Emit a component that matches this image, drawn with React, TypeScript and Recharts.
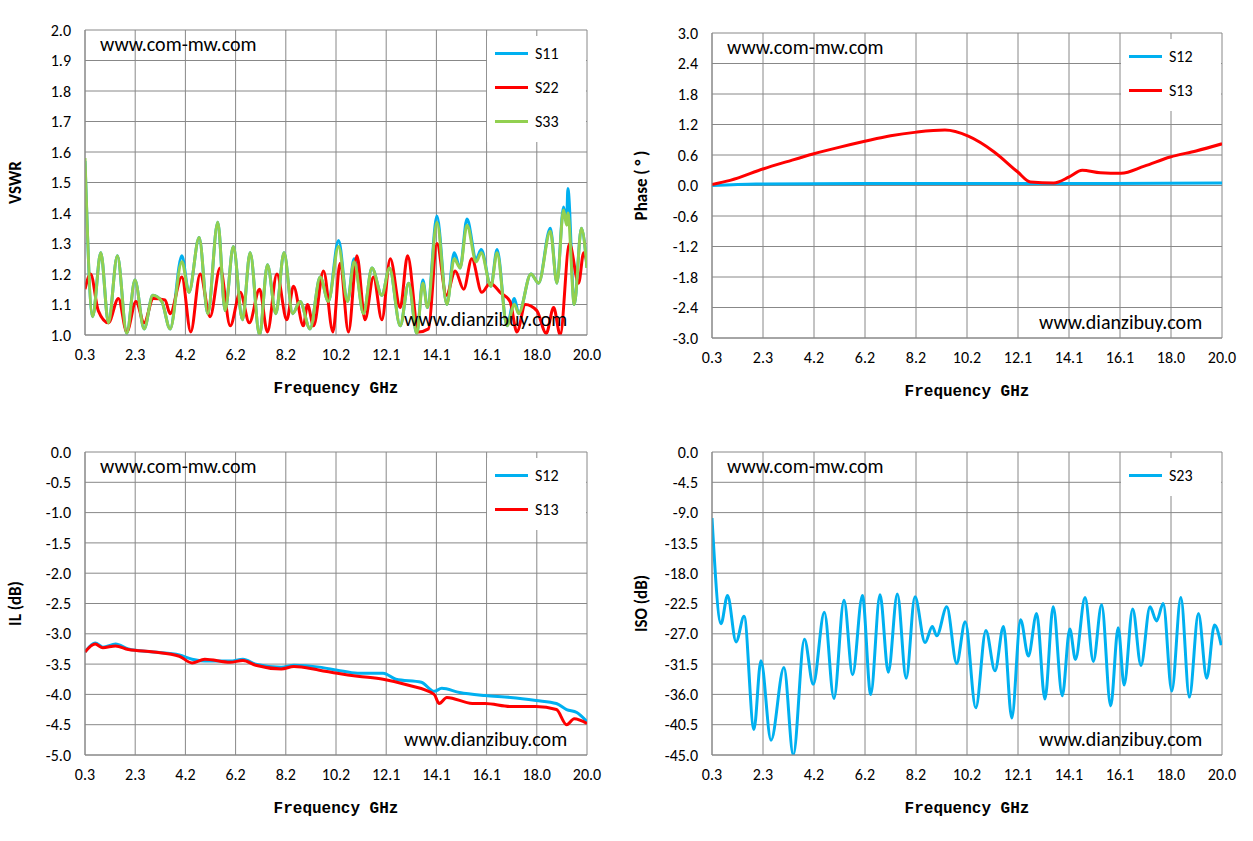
import React from 'react';
import { LineChart, Line, XAxis, YAxis, CartesianGrid } from 'recharts';

const freqTicks = [0.3, 2.27, 4.24, 6.21, 8.18, 10.15, 12.12, 14.09, 16.06, 18.03, 20.0];
const freqLabels = ['0.3', '2.3', '4.2', '6.2', '8.2', '10.2', '12.1', '14.1', '16.1', '18.0', '20.0'];

// VSWR [GHz, value]
const vswrS33: [number, number][] = [
  [0.3, 1.58], [0.6, 1.06], [0.92, 1.27], [1.22, 1.04], [1.57, 1.26], [1.94, 1.005], [2.26, 1.18], [2.62, 1.02],
  [2.96, 1.13], [3.31, 1.11], [3.64, 1.02], [4.1, 1.24], [4.38, 1.14], [4.78, 1.32], [5.12, 1.07], [5.51, 1.37],
  [5.8, 1.08], [6.12, 1.29], [6.48, 1.05], [6.78, 1.27], [7.15, 1.0], [7.46, 1.23], [7.79, 1.07], [8.11, 1.27],
  [8.45, 1.07], [8.74, 1.11], [9.13, 1.02], [9.53, 1.19], [9.85, 1.11], [10.25, 1.29], [10.6, 1.11], [10.86, 1.24],
  [11.23, 1.07], [11.56, 1.22], [11.95, 1.13], [12.25, 1.22], [12.67, 1.03], [13.0, 1.17], [13.32, 1.005], [13.56, 1.17],
  [13.74, 1.09], [14.11, 1.37], [14.5, 1.1], [14.79, 1.25], [15.02, 1.22], [15.29, 1.36], [15.65, 1.24], [15.85, 1.27],
  [16.23, 1.16], [16.47, 1.27], [16.86, 1.03], [17.15, 1.1], [17.32, 1.07], [17.8, 1.2], [18.1, 1.17], [18.56, 1.34],
  [18.82, 1.17], [19.08, 1.41], [19.2, 1.36], [19.25, 1.4], [19.5, 1.1], [19.78, 1.35], [20.0, 1.22],
];
const vswrS11: [number, number][] = [
  [0.3, 1.57], [0.6, 1.06], [0.92, 1.27], [1.22, 1.04], [1.57, 1.26], [1.94, 1.005], [2.26, 1.18], [2.62, 1.02],
  [2.96, 1.13], [3.31, 1.11], [3.64, 1.02], [4.1, 1.26], [4.38, 1.14], [4.78, 1.32], [5.12, 1.07], [5.51, 1.37],
  [5.8, 1.08], [6.12, 1.29], [6.48, 1.05], [6.78, 1.27], [7.15, 1.0], [7.46, 1.23], [7.79, 1.07], [8.11, 1.27],
  [8.45, 1.07], [8.74, 1.11], [9.13, 1.02], [9.53, 1.19], [9.85, 1.11], [10.25, 1.31], [10.6, 1.11], [10.86, 1.25],
  [11.23, 1.07], [11.56, 1.22], [11.95, 1.13], [12.25, 1.22], [12.67, 1.03], [13.0, 1.17], [13.32, 1.005], [13.56, 1.18],
  [13.74, 1.09], [14.11, 1.39], [14.5, 1.1], [14.79, 1.27], [15.02, 1.22], [15.29, 1.38], [15.65, 1.25], [15.85, 1.28],
  [16.23, 1.16], [16.47, 1.28], [16.86, 1.03], [17.15, 1.12], [17.32, 1.07], [17.8, 1.2], [18.1, 1.17], [18.56, 1.35],
  [18.82, 1.17], [19.08, 1.42], [19.2, 1.37], [19.25, 1.48], [19.5, 1.1], [19.78, 1.35], [20.0, 1.22],
];
const vswrS22: [number, number][] = [
  [0.3, 1.15], [0.52, 1.2], [0.82, 1.08], [1.22, 1.04], [1.61, 1.12], [1.94, 1.01], [2.3, 1.11], [2.62, 1.04],
  [2.98, 1.12], [3.44, 1.115], [3.64, 1.07], [4.1, 1.19], [4.45, 1.01], [4.82, 1.2], [5.21, 1.06], [5.6, 1.22],
  [6.0, 1.03], [6.39, 1.14], [6.75, 1.04], [7.15, 1.15], [7.46, 1.01], [7.83, 1.2], [8.22, 1.05], [8.48, 1.16],
  [8.87, 1.03], [9.03, 1.1], [9.27, 1.03], [9.66, 1.21], [10.03, 1.01], [10.31, 1.235], [10.64, 1.01], [10.97, 1.26],
  [11.29, 1.05], [11.62, 1.19], [11.95, 1.05], [12.28, 1.25], [12.67, 1.09], [12.96, 1.26], [13.39, 1.01], [13.78, 1.02],
  [14.11, 1.3], [14.48, 1.13], [14.83, 1.21], [15.16, 1.15], [15.48, 1.25], [15.87, 1.14], [16.2, 1.17], [16.59, 1.14],
  [16.98, 1.11], [17.25, 1.01], [17.58, 1.1], [18.03, 1.08], [18.4, 1.005], [18.69, 1.09], [18.95, 1.0], [19.31, 1.3],
  [19.67, 1.17], [19.87, 1.27], [20.0, 1.24],
];

// Phase
const phaseS12: [number, number][] = [[0.3, 0.0], [2.0, 0.03], [8.0, 0.04], [14.0, 0.04], [20.0, 0.05]];
const phaseS13: [number, number][] = [
  [0.3, 0.02], [1.0, 0.1], [2.3, 0.33], [3.2, 0.47], [4.2, 0.62], [5.2, 0.75], [6.2, 0.87], [7.2, 0.98],
  [8.2, 1.05], [9.3, 1.09], [10.2, 0.97], [11.2, 0.66], [12.1, 0.27], [12.6, 0.07], [13.5, 0.05], [14.1, 0.17],
  [14.6, 0.3], [15.3, 0.25], [16.1, 0.24], [17.0, 0.38], [18.0, 0.56], [19.0, 0.68], [20.0, 0.82],
];

// Insertion loss
const ilS12: [number, number][] = [
  [0.3, -3.3], [0.7, -3.15], [1.0, -3.22], [1.5, -3.17], [2.0, -3.25], [3.0, -3.3], [4.0, -3.35], [4.5, -3.42],
  [5.0, -3.45], [6.0, -3.45], [6.5, -3.42], [7.0, -3.5], [8.0, -3.55], [8.5, -3.52], [9.5, -3.55], [10.2, -3.6],
  [11.0, -3.65], [12.0, -3.65], [12.5, -3.75], [13.5, -3.8], [14.0, -3.95], [14.3, -3.9], [15.0, -3.97], [16.0, -4.02],
  [17.0, -4.05], [18.0, -4.1], [18.8, -4.15], [19.2, -4.25], [19.6, -4.3], [20.0, -4.45],
];
const ilS13: [number, number][] = [
  [0.3, -3.3], [0.7, -3.17], [1.0, -3.23], [1.5, -3.2], [2.0, -3.26], [3.0, -3.3], [4.0, -3.37], [4.5, -3.48],
  [5.0, -3.42], [6.0, -3.47], [6.5, -3.44], [7.0, -3.52], [8.0, -3.58], [8.5, -3.54], [9.5, -3.6], [10.2, -3.65],
  [11.0, -3.7], [12.0, -3.75], [13.0, -3.85], [14.0, -4.0], [14.2, -4.15], [14.5, -4.05], [15.5, -4.15], [16.0, -4.15],
  [17.0, -4.2], [18.0, -4.2], [18.8, -4.25], [19.2, -4.5], [19.5, -4.4], [20.0, -4.48],
];

// Isolation
const isoS23: [number, number][] = [
  [0.3, -9.8], [0.65, -25.5], [0.9, -21.3], [1.23, -28.2], [1.54, -24.4], [1.92, -41.2], [2.19, -31.0], [2.58, -42.8],
  [3.08, -32.0], [3.44, -45.0], [3.87, -27.8], [4.21, -34.5], [4.64, -23.8], [5.01, -36.6], [5.4, -22.0], [5.73, -33.1],
  [6.11, -21.3], [6.43, -36.0], [6.79, -21.2], [7.11, -32.7], [7.46, -21.1], [7.8, -33.6], [8.14, -21.5], [8.53, -28.3],
  [8.81, -25.9], [8.98, -27.3], [9.37, -23.0], [9.75, -31.4], [10.08, -25.2], [10.49, -38.0], [10.88, -26.5], [11.23, -32.5],
  [11.56, -25.9], [11.88, -39.5], [12.22, -24.9], [12.52, -30.3], [12.84, -24.0], [13.16, -36.7], [13.48, -23.0], [13.83, -36.2],
  [14.12, -26.3], [14.34, -30.8], [14.71, -21.6], [15.03, -31.1], [15.35, -22.7], [15.7, -37.7], [15.99, -26.1], [16.22, -34.6],
  [16.55, -23.3], [16.87, -31.7], [17.22, -23.0], [17.47, -25.1], [17.73, -22.5], [18.06, -35.5], [18.41, -21.6], [18.74, -36.4],
  [19.09, -24.0], [19.41, -33.6], [19.71, -25.7], [19.97, -28.7],
];

const vswrTicks = [1.0, 1.1, 1.2, 1.3, 1.4, 1.5, 1.6, 1.7, 1.8, 1.9, 2.0];
const phaseTicks = [-3.0, -2.4, -1.8, -1.2, -0.6, 0.0, 0.6, 1.2, 1.8, 2.4, 3.0];
const ilTicks = [-5.0, -4.5, -4.0, -3.5, -3.0, -2.5, -2.0, -1.5, -1.0, -0.5, 0.0];
const isoTicks = [-45, -40.5, -36, -31.5, -27, -22.5, -18, -13.5, -9, -4.5, 0];

const BLUE = '#00B0F0';
const RED = '#FF0000';
const GREEN = '#92D050';
const FONT = 'Carlito, "Liberation Sans", Arial, sans-serif';

type Series = { name: string; color: string; data: [number, number][] };

function Panel(props: {
  plot: [number, number, number, number]; // left, top, right, bottom
  yTicks: number[];
  yLabel: string;
  series: Series[];
  legendTop: number;
  legendLeft: number;
  legendWidth: number;
}) {
  const [pl, pt, pr, pb] = props.plot;
  const yw = 60;
  const xh = 30;
  const domain = [props.yTicks[0], props.yTicks[props.yTicks.length - 1]];
  const tick = { fill: '#000', fontSize: 16, fontFamily: FONT };
  return (
    <>
      <div style={{ position: 'absolute', left: 0, top: 0 }}>
        <LineChart
          width={1253}
          height={841}
          margin={{ left: pl - yw, top: pt, right: 1253 - pr, bottom: 841 - pb - xh }}
        >
          <CartesianGrid stroke="#888" strokeWidth={1} />
          <XAxis
            type="number"
            dataKey="0"
            domain={[0.3, 20]}
            ticks={freqTicks}
            allowDataOverflow
            tickFormatter={(v: number) => freqLabels[freqTicks.indexOf(v)] ?? ''}
            height={xh}
            tick={tick}
            tickLine={false}
            axisLine={{ stroke: '#888' }}
            tickMargin={8}
          />
          <YAxis
            type="number"
            dataKey="1"
            domain={domain}
            ticks={props.yTicks}
            allowDataOverflow
            tickFormatter={(v: number) => v.toFixed(1)}
            width={yw}
            tick={tick}
            tickLine={false}
            axisLine={{ stroke: '#888' }}
            tickMargin={8}
          />
          {props.series.map((s) => (
            <Line
              key={s.name}
              data={s.data}
              dataKey="1"
              type="monotone"
              stroke={s.color}
              strokeWidth={3}
              dot={false}
              isAnimationActive={false}
            />
          ))}
        </LineChart>
      </div>
      <div
        style={{
          position: 'absolute', left: props.legendLeft, top: props.legendTop, width: props.legendWidth,
          height: props.series.length * 34 + 4, background: '#fff', fontFamily: FONT, fontSize: 16,
        }}
      >
        {props.series.map((s, i) => (
          <div key={s.name} style={{ position: 'absolute', top: 8 + i * 34, left: 8, display: 'flex', alignItems: 'center' }}>
            <div style={{ width: 33, height: 3, background: s.color, marginRight: 7 }} />
            <span>{s.name}</span>
          </div>
        ))}
      </div>
      <div style={{ position: 'absolute', left: pl + 15, top: pt + 2, fontFamily: FONT, fontSize: 20 }}>www.com-mw.com</div>
      <div style={{ position: 'absolute', left: pr - 183, top: pb - 28, fontFamily: FONT, fontSize: 20 }}>www.dianzibuy.com</div>
      <div
        style={{
          position: 'absolute', left: (pl + pr) / 2 - 100, width: 200, textAlign: 'center', top: pb + 45,
          fontFamily: '"Liberation Mono", monospace', fontWeight: 'bold', fontSize: 16,
        }}
      >
        Frequency GHz
      </div>
      <div
        style={{
          position: 'absolute', left: pl - 80, top: (pt + pb) / 2 - 10, width: 20, height: 20,
          display: 'flex', alignItems: 'center', justifyContent: 'center',
        }}
      >
        <div style={{ transform: 'rotate(-90deg)', whiteSpace: 'nowrap', fontFamily: FONT, fontWeight: 'bold', fontSize: 17 }}>
          {props.yLabel}
        </div>
      </div>
    </>
  );
}

export default function App() {
  return (
    <div style={{ position: 'absolute', left: 0, top: 0, width: 1253, height: 841, background: '#fff' }}>
      <Panel
        plot={[85, 30, 587, 335]}
        yTicks={vswrTicks}
        yLabel="VSWR"
        series={[
          { name: 'S11', color: BLUE, data: vswrS11 },
          { name: 'S22', color: RED, data: vswrS22 },
          { name: 'S33', color: GREEN, data: vswrS33 },
        ]}
        legendLeft={487}
        legendTop={36}
        legendWidth={99}
      />
      <Panel
        plot={[712, 33, 1222, 338]}
        yTicks={phaseTicks}
        yLabel="Phase ( ° )"
        series={[
          { name: 'S12', color: BLUE, data: phaseS12 },
          { name: 'S13', color: RED, data: phaseS13 },
        ]}
        legendLeft={1121}
        legendTop={39}
        legendWidth={100}
      />
      <Panel
        plot={[85, 452, 587, 755]}
        yTicks={ilTicks}
        yLabel="IL (dB)"
        series={[
          { name: 'S12', color: BLUE, data: ilS12 },
          { name: 'S13', color: RED, data: ilS13 },
        ]}
        legendLeft={487}
        legendTop={458}
        legendWidth={99}
      />
      <Panel
        plot={[712, 452, 1222, 755]}
        yTicks={isoTicks}
        yLabel="ISO (dB)"
        series={[{ name: 'S23', color: BLUE, data: isoS23 }]}
        legendLeft={1121}
        legendTop={458}
        legendWidth={100}
      />
    </div>
  );
}
